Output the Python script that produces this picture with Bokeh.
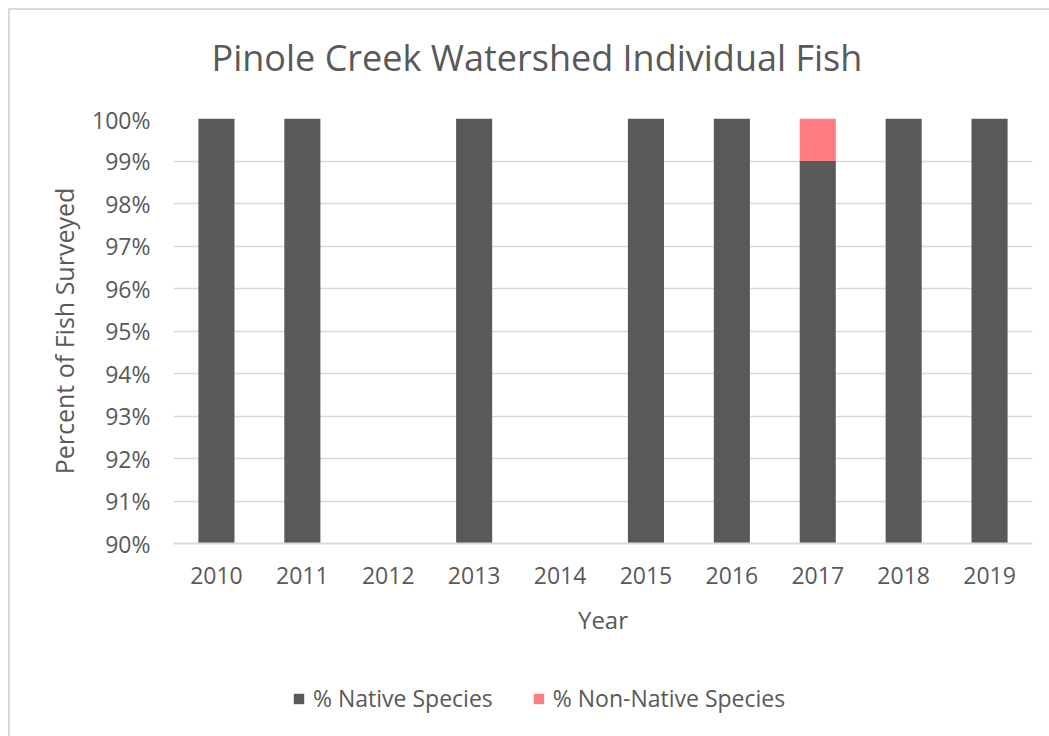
from bokeh.plotting import figure
from bokeh.layouts import column
from bokeh.models import ColumnDataSource, NumeralTickFormatter, Legend, LegendItem, FixedTicker, Range1d, Label
from bokeh.embed import file_html
from bokeh.resources import INLINE

years = ["2010", "2011", "2012", "2013", "2014", "2015", "2016", "2017", "2018", "2019"]
native = [1.00, 1.00, 0.0, 1.00, 0.0, 1.00, 1.00, 0.99, 1.00, 1.00]
non_native = [0.0, 0.0, 0.0, 0.0, 0.0, 0.0, 0.0, 0.01, 0.0, 0.0]
y_ticks = [0.90, 0.91, 0.92, 0.93, 0.94, 0.95, 0.96, 0.97, 0.98, 0.99, 1.00]
series_labels = ["% Native Species", "% Non-Native Species"]
colors = ["#595959", "#ff7c80"]
title_text = "Pinole Creek Watershed Individual Fish"

FONT = "Open Sans"
TXT = "#595959"

src = ColumnDataSource(dict(year=years, native=native, non_native=non_native))

# title strip
t = figure(x_range=years, y_range=Range1d(0, 1), width=1039, height=93,
           output_backend="svg", toolbar_location=None, min_border=0,
           x_axis_location=None, y_axis_location=None)
t.outline_line_color = None
t.grid.visible = False
t.add_layout(Label(x=38, y=46, x_units="screen", y_units="screen", text=title_text,
                   text_font=FONT, text_font_size="36px", text_color=TXT,
                   text_align="left", text_baseline="middle"))

p = figure(x_range=years, y_range=Range1d(0.90, 1.00), width=1039, height=542,
           output_backend="svg", toolbar_location=None,
           min_border_left=163, min_border_right=17, min_border_top=15, min_border_bottom=102)
p.outline_line_color = None

rs = p.vbar_stack(["native", "non_native"], x="year", width=0.42, color=colors, source=src,
                  line_color=None)

p.yaxis.ticker = FixedTicker(ticks=y_ticks)
p.yaxis.formatter = NumeralTickFormatter(format="0%")
for ax in (p.xaxis[0], p.yaxis[0]):
    ax.major_label_text_font = FONT
    ax.major_label_text_color = TXT
    ax.axis_label_text_font = FONT
    ax.axis_label_text_font_style = "normal"
    ax.axis_label_text_color = TXT
    ax.major_tick_line_color = None
    ax.minor_tick_line_color = None
p.yaxis.major_label_text_font_size = "23px"
p.xaxis.major_label_text_font_size = "23px"
p.yaxis.axis_label_text_font_size = "25px"
p.xaxis.axis_label_text_font_size = "24px"
p.yaxis.axis_line_color = None
p.yaxis.major_label_standoff = 17
p.yaxis.axis_label = "Percent of Fish Surveyed"
p.yaxis.axis_label_standoff = 8
p.xaxis.axis_line_color = "#d9d9d9"
p.xaxis.axis_line_width = 2
p.xaxis.major_label_standoff = 17
p.xaxis.axis_label = "Year"
p.xaxis.axis_label_standoff = 16

p.xgrid.grid_line_color = None
p.ygrid.grid_line_color = "#d9d9d9"
p.ygrid.grid_line_width = 1.5

# legend strip below the chart (its bars fall outside its y range, only the legend shows)
q = figure(x_range=years, y_range=Range1d(5, 6), width=1039, height=91,
           output_backend="svg", toolbar_location=None, min_border=0,
           x_axis_location=None, y_axis_location=None)
q.outline_line_color = None
q.grid.visible = False
qr = q.vbar_stack(["native", "non_native"], x="year", width=0.42, color=colors, source=src,
                  line_color=None)
legend = Legend(items=[LegendItem(label=series_labels[i], renderers=[qr[i]]) for i in range(2)],
                orientation="horizontal", location=(119, 22),
                glyph_width=13, glyph_height=13, label_standoff=8, spacing=39,
                padding=0, margin=0, border_line_color=None, background_fill_alpha=0,
                label_text_font=FONT, label_text_font_size="23px", label_text_color=TXT)
q.add_layout(legend, "center")

layout = column(t, p, q, margin=(8, 0, 0, 8), spacing=0)
layout.styles = {"border-left": "2px solid #d9d9d9", "border-top": "2px solid #d9d9d9"}

open("out.html", "w").write(file_html(layout, INLINE))
